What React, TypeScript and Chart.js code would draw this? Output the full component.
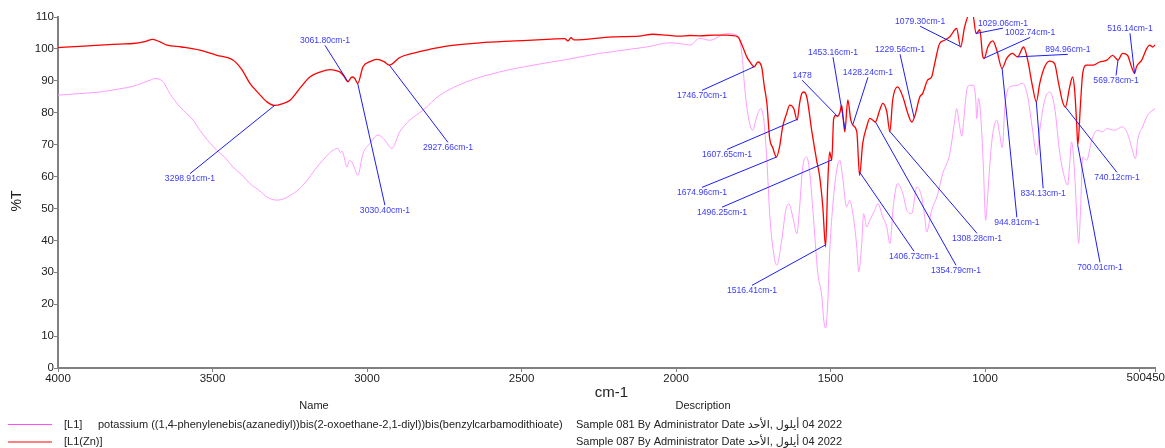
import React, { useEffect, useRef } from 'react';
import { Chart, registerables } from 'chart.js';

Chart.register(...registerables);

// L1(Zn) spectrum (red)
const zincWavenumbers = [
  4000, 3930, 3864, 3800, 3757, 3720, 3693, 3670, 3647, 3600, 3541, 3486, 3434, 3405, 3379, 3350, 3324, 3299, 3275, 3249,
  3217, 3185, 3150, 3120, 3100, 3088, 3075, 3062, 3049, 3040, 3030, 3013, 2990, 2968, 2945, 2928, 2894, 2852, 2800, 2742,
  2635, 2520, 2418, 2360, 2350, 2340, 2330, 2205, 2120, 2075, 2030, 1988, 1955, 1923, 1880, 1836, 1800, 1784, 1771, 1761,
  1747, 1735, 1723, 1714, 1706, 1697, 1687, 1675, 1665, 1655, 1642, 1632, 1619, 1608, 1600, 1593, 1587, 1577, 1561, 1545,
  1535, 1525, 1516, 1509, 1503, 1496, 1490, 1483, 1478, 1470, 1464, 1454, 1444, 1435, 1428, 1415, 1406, 1396, 1383, 1373,
  1365, 1355, 1341, 1331, 1318, 1308, 1299, 1283, 1266, 1250, 1237, 1228, 1211, 1202, 1186, 1173, 1163, 1147, 1131, 1114,
  1092, 1079, 1066, 1050, 1040, 1029, 1017, 1008, 1003, 991, 975, 962, 945, 930, 911, 895, 875, 862, 846, 834,
  823, 807, 791, 775, 762, 749, 740, 726, 717, 710, 703, 700, 691, 684, 671, 652, 629, 606, 587, 570,
  555, 539, 526, 516, 510, 493, 477, 467, 458, 450,
];
const zincTransmittance = [
  100.4, 100.8, 101.2, 101.5, 101.7, 102.3, 103.0, 102.2, 101.2, 100.6, 99.6, 98.0, 96.5, 93.5, 89.2, 86.0, 83.4, 82.3, 82.8, 83.9,
  87.7, 91.2, 92.8, 93.5, 93.2, 92.8, 91.5, 89.7, 91.2, 90.8, 89.2, 94.4, 96.0, 96.7, 96.0, 94.9, 97.3, 98.6, 99.8, 100.9,
  101.9, 102.5, 103.0, 103.2, 102.5, 103.5, 102.8, 103.8, 104.0, 104.6, 104.3, 104.0, 104.2, 104.1, 104.3, 104.3, 103.8, 100.6, 97.5, 95.9,
  94.4, 95.9, 94.4, 88.0, 83.0, 72.0, 69.0, 66.1, 69.3, 75.6, 79.8, 82.4, 81.3, 77.7, 83.0, 86.0, 86.5, 85.0, 74.5, 65.1,
  59.9, 50.5, 38.0, 58.0, 67.7, 65.1, 78.0, 79.2, 78.9, 80.0, 82.4, 74.0, 84.0, 78.0, 76.1, 74.0, 60.4, 70.3, 75.6, 78.2,
  77.8, 77.1, 80.8, 82.9, 80.3, 74.0, 83.9, 88.1, 85.0, 79.8, 77.1, 78.7, 85.0, 86.0, 90.2, 91.2, 95.4, 101.7, 102.7, 103.8,
  106.4, 100.6, 106.9, 111.0, 111.0, 104.8, 106.0, 98.0, 97.0, 100.6, 102.5, 99.6, 93.9, 97.0, 98.6, 97.5, 100.6, 96.5, 88.1, 83.4,
  89.2, 94.4, 96.2, 95.4, 89.2, 83.4, 81.8, 88.1, 91.2, 87.1, 75.6, 69.8, 82.9, 92.3, 94.9, 94.9, 95.9, 96.5, 98.0, 96.5,
  98.6, 98.0, 94.4, 92.3, 94.4, 96.5, 100.1, 101.2, 100.6, 101.2,
];

// L1 spectrum (pink)
const ligandWavenumbers = [
  4000, 3930, 3864, 3800, 3757, 3702, 3686, 3660, 3638, 3605, 3563, 3541, 3508, 3486, 3460, 3434, 3405, 3379, 3347, 3324,
  3292, 3270, 3249, 3220, 3194, 3170, 3143, 3120, 3105, 3094, 3086, 3081, 3075, 3065, 3057, 3049, 3040, 3030, 3013, 2991,
  2965, 2942, 2920, 2894, 2861, 2819, 2764, 2677, 2570, 2463, 2353, 2247, 2095, 2020, 1975, 1956, 1923, 1891, 1836, 1803,
  1787, 1778, 1768, 1752, 1739, 1726, 1716, 1706, 1697, 1684, 1674, 1658, 1645, 1635, 1622, 1609, 1600, 1590, 1577, 1567,
  1558, 1541, 1528, 1522, 1516, 1509, 1503, 1493, 1480, 1470, 1461, 1448, 1438, 1428, 1415, 1409, 1399, 1393, 1383, 1373,
  1357, 1347, 1331, 1318, 1308, 1296, 1283, 1266, 1253, 1237, 1221, 1205, 1195, 1189, 1173, 1156, 1137, 1114, 1098, 1092,
  1082, 1075, 1069, 1059, 1050, 1037, 1030, 1027, 1021, 1011, 1005, 998, 991, 979, 962, 953, 944, 936, 920, 900,
  878, 862, 846, 833, 823, 807, 791, 775, 758, 742, 733, 726, 720, 710, 703, 697, 691, 684, 671, 655,
  636, 620, 606, 581, 555, 539, 526, 513, 506, 490, 474, 450,
];
const ligandTransmittance = [
  85.5, 86.0, 86.5, 87.5, 88.3, 90.2, 90.7, 89.7, 86.0, 81.8, 77.7, 74.5, 70.5, 68.2, 66.0, 63.0, 60.5, 57.8, 55.5, 53.6,
  52.6, 53.0, 54.1, 56.0, 58.8, 62.0, 65.1, 67.5, 68.5, 68.8, 67.5, 68.0, 66.5, 63.0, 65.0, 64.6, 62.5, 60.4, 67.2, 70.3,
  73.0, 71.4, 68.8, 74.0, 77.7, 80.8, 85.5, 89.7, 92.8, 94.9, 96.7, 98.6, 100.6, 101.9, 101.5, 101.2, 103.3, 102.7, 104.8, 104.3,
  98.6, 88.1, 79.8, 74.5, 78.7, 81.3, 77.7, 65.1, 48.4, 35.9, 32.2, 40.0, 49.4, 51.5, 47.3, 42.1, 50.5, 63.0, 66.1, 60.9,
  50.5, 29.6, 22.3, 15.0, 12.5, 20.2, 35.9, 50.5, 62.0, 65.1, 59.9, 50.5, 52.6, 48.5, 37.9, 30.1, 39.0, 48.4, 44.2, 46.3,
  49.4, 51.5, 47.3, 44.2, 39.0, 51.5, 57.8, 54.7, 49.4, 48.4, 56.7, 53.6, 47.3, 42.6, 49.4, 53.6, 60.9, 67.2, 77.7, 81.3,
  75.6, 72.6, 77.7, 87.1, 88.6, 88.6, 83.9, 78.2, 84.5, 74.5, 62.0, 46.3, 54.7, 70.3, 77.7, 73.5, 69.0, 81.8, 88.1, 88.5,
  89.2, 85.0, 74.5, 66.7, 74.5, 83.9, 86.5, 81.8, 67.2, 59.4, 57.3, 64.1, 70.9, 60.9, 47.3, 39.0, 49.4, 66.1, 65.1, 71.4,
  74.5, 74.0, 75.0, 74.5, 75.6, 73.5, 69.3, 65.6, 71.4, 75.6, 79.2, 81.3,
];

const xTickValues = [4000, 3500, 3000, 2500, 2000, 1500, 1000, 500, 450];
const xEndTickValues = [500, 450];
const yTickValues = [0, 10, 20, 30, 40, 50, 60, 70, 80, 90, 100, 110];

// Peak annotations on the L1(Zn) curve
const peakLabels = [
  '3298.91cm-1', '3061.80cm-1', '3030.40cm-1', '2927.66cm-1', '1746.70cm-1', '1607.65cm-1', '1674.96cm-1',
  '1496.25cm-1', '1516.41cm-1', '1478', '1453.16cm-1', '1428.24cm-1', '1406.73cm-1', '1354.79cm-1',
  '1308.28cm-1', '1229.56cm-1', '1079.30cm-1', '1029.06cm-1', '1002.74cm-1', '894.96cm-1', '944.81cm-1',
  '834.13cm-1', '740.12cm-1', '700.01cm-1', '569.78cm-1', '516.14cm-1',
];
const peakWavenumbers = [
  3298.91, 3061.8, 3030.4, 2927.66, 1746.7, 1607.65, 1674.96,
  1496.25, 1516.41, 1478, 1453.16, 1428.24, 1406.73, 1354.79,
  1308.28, 1229.56, 1079.3, 1029.06, 1002.74, 894.96, 944.81,
  834.13, 740.12, 700.01, 569.78, 516.14,
];
const labelWavenumbers = [
  3573, 3136, 2942, 2738, 1916, 1835, 1916,
  1851, 1754, 1592, 1492, 1379, 1230, 1094,
  1026, 1275, 1210, 942, 854, 732, 897,
  812, 573, 628, 576, 531,
];
const labelTransmittance = [
  60.9, 101.1, 51.0, 70.7, 87.0, 68.5, 56.6,
  50.4, 25.9, 90.2, 97.4, 91.1, 36.6, 32.2,
  42.2, 98.3, 107.1, 106.5, 103.6, 98.3, 47.2,
  56.3, 61.3, 33.1, 91.7, 104.9,
];
const labelSides = [
  'below', 'above', 'below', 'below', 'below', 'below', 'below',
  'below', 'below', 'above', 'above', 'above', 'below', 'below',
  'below', 'above', 'above', 'above', 'above', 'above', 'below',
  'below', 'below', 'below', 'below', 'above',
];

const legendCodes = ['[L1]', '[L1(Zn)]'];
const legendNames = ['potassium ((1,4-phenylenebis(azanediyl))bis(2-oxoethane-2,1-diyl))bis(benzylcarbamodithioate)', ''];
const legendDescriptions = [
  'Sample 081 By Administrator Date \u0627\u0644\u0623\u062D\u062F\u200E, \u0623\u064A\u0644\u0648\u0644\u200E 04 2022',
  'Sample 087 By Administrator Date \u0627\u0644\u0623\u062D\u062F\u200E, \u0623\u064A\u0644\u0648\u0644\u200E 04 2022',
];

const FONT = "'Liberation Sans', Arial, 'DejaVu Sans', sans-serif";
const RED = '#ff0000';
const PINK = '#ff9cff';
const PINK_LEGEND = '#ff4dff';
const BLUE_TEXT = '#3a3aff';
const BLUE_LINE = '#1c1cf5';
const AXIS = '#808080';
const TICK_TEXT = '#222';

function interpolate(xs: number[], ys: number[], x: number): number {
  for (let i = 0; i < xs.length - 1; i++) {
    const a = xs[i];
    const b = xs[i + 1];
    if ((x <= a && x >= b) || (x >= a && x <= b)) {
      const t = a === b ? 0 : (x - a) / (b - a);
      return ys[i] + t * (ys[i + 1] - ys[i]);
    }
  }
  return ys[ys.length - 1];
}

const overlayPlugin = {
  id: 'overlay',
  afterDraw(chart: any) {
    const ctx = chart.ctx as CanvasRenderingContext2D;
    const xs = chart.scales.x;
    const ys = chart.scales.y;
    const area = chart.chartArea;
    ctx.save();

    // peak annotations
    ctx.font = `8.6px ${FONT}`;
    ctx.textAlign = 'center';
    for (let i = 0; i < peakLabels.length; i++) {
      const pw = peakWavenumbers[i];
      const pv = Math.min(interpolate(zincWavenumbers, zincTransmittance, pw), 110);
      const px = xs.getPixelForValue(pw);
      const py = ys.getPixelForValue(pv);
      const lx = xs.getPixelForValue(labelWavenumbers[i]);
      const ly = ys.getPixelForValue(labelTransmittance[i]);
      ctx.strokeStyle = BLUE_LINE;
      ctx.lineWidth = 1;
      ctx.beginPath();
      ctx.moveTo(px, py);
      ctx.lineTo(lx, ly);
      ctx.stroke();
      ctx.fillStyle = BLUE_TEXT;
      if (labelSides[i] === 'above') {
        ctx.textBaseline = 'bottom';
        ctx.fillText(peakLabels[i], lx, ly - 0.5);
      } else {
        ctx.textBaseline = 'top';
        ctx.fillText(peakLabels[i], lx, ly + 1);
      }
    }

    // the two crowded end ticks of the x axis, set side by side
    ctx.font = `11.5px ${FONT}`;
    ctx.fillStyle = TICK_TEXT;
    ctx.textBaseline = 'middle';
    const seam = (xs.getPixelForValue(xEndTickValues[0]) + xs.getPixelForValue(xEndTickValues[1])) / 2 - 1.5;
    ctx.textAlign = 'right';
    ctx.fillText(String(xEndTickValues[0]), seam, area.bottom + 10);
    ctx.textAlign = 'left';
    ctx.fillText(String(xEndTickValues[1]), seam, area.bottom + 10);

    // axis titles
    ctx.fillStyle = TICK_TEXT;
    ctx.textAlign = 'center';
    ctx.textBaseline = 'middle';
    ctx.font = `15px ${FONT}`;
    ctx.fillText('cm-1', (area.left + area.right) / 2 + 5, 393);
    ctx.save();
    ctx.translate(17, 201);
    ctx.rotate(-Math.PI / 2);
    ctx.font = `14px ${FONT}`;
    ctx.fillText('%T', 0, 0);
    ctx.restore();

    // legend table
    ctx.font = `11px ${FONT}`;
    ctx.fillStyle = TICK_TEXT;
    ctx.textAlign = 'center';
    ctx.textBaseline = 'middle';
    ctx.fillText('Name', 314, 406);
    ctx.fillText('Description', 703, 406);
    const rowY = [424.5, 442];
    const rowColors = [PINK_LEGEND, RED];
    for (let r = 0; r < legendCodes.length; r++) {
      ctx.strokeStyle = rowColors[r];
      ctx.lineWidth = 1;
      ctx.beginPath();
      ctx.moveTo(8, rowY[r]);
      ctx.lineTo(52, rowY[r]);
      ctx.stroke();
      ctx.fillStyle = TICK_TEXT;
      ctx.textAlign = 'left';
      ctx.direction = 'ltr';
      ctx.fillText(legendCodes[r], 64, rowY[r]);
      if (legendNames[r]) ctx.fillText(legendNames[r], 98, rowY[r]);
      ctx.fillText(legendDescriptions[r], 576, rowY[r]);
    }
    ctx.restore();
  },
};

export default function App() {
  const canvasRef = useRef<HTMLCanvasElement | null>(null);

  useEffect(() => {
    document.body.style.margin = '0';
    const canvas = canvasRef.current;
    if (!canvas) return;
    const zincData = zincWavenumbers.map((w, i) => ({ x: w, y: zincTransmittance[i] }));
    const ligandData = ligandWavenumbers.map((w, i) => ({ x: w, y: ligandTransmittance[i] }));
    const tickFont = { family: FONT, size: 11.5 };

    const chart = new Chart(canvas, {
      type: 'line',
      data: {
        datasets: [
          {
            label: '[L1(Zn)]',
            data: zincData,
            borderColor: RED,
            borderWidth: 1.3,
            pointRadius: 0,
            cubicInterpolationMode: 'monotone',
            fill: false,
          },
          {
            label: '[L1]',
            data: ligandData,
            borderColor: PINK,
            borderWidth: 1,
            pointRadius: 0,
            cubicInterpolationMode: 'monotone',
            fill: false,
          },
        ],
      },
      options: {
        animation: false,
        responsive: true,
        maintainAspectRatio: false,
        parsing: true,
        layout: { padding: { top: 17, right: 10, left: 0, bottom: 0 } },
        plugins: {
          legend: { display: false },
          tooltip: { enabled: false },
          title: { display: false },
        },
        scales: {
          x: {
            type: 'linear',
            reverse: true,
            min: 450,
            max: 4000,
            position: 'bottom',
            afterBuildTicks: (scale: any) => {
              scale.ticks = xTickValues.map((v) => ({ value: v }));
            },
            afterFit: (scale: any) => {
              scale.height = 80;
            },
            ticks: {
              autoSkip: false,
              maxRotation: 0,
              minRotation: 0,
              padding: 0,
              color: TICK_TEXT,
              font: tickFont,
              callback: (v: any) => (xEndTickValues.includes(Number(v)) ? '' : String(v)),
            },
            grid: {
              display: true,
              drawOnChartArea: false,
              drawTicks: true,
              tickLength: 4,
              color: AXIS,
            },
            border: { display: true, color: AXIS, width: 2 },
          },
          y: {
            type: 'linear',
            min: 0,
            max: 110,
            afterBuildTicks: (scale: any) => {
              scale.ticks = yTickValues.map((v) => ({ value: v }));
            },
            afterFit: (scale: any) => {
              scale.width = 58;
            },
            ticks: {
              padding: 0,
              color: TICK_TEXT,
              font: tickFont,
              callback: (v: any) => String(v),
            },
            grid: {
              display: true,
              drawOnChartArea: false,
              drawTicks: true,
              tickLength: 4,
              color: AXIS,
            },
            border: { display: true, color: AXIS, width: 2 },
          },
        },
      } as any,
      plugins: [overlayPlugin],
    });

    return () => {
      chart.destroy();
    };
  }, []);

  return (
    <div style={{ width: 1165, height: 448, position: 'relative' }}>
      <canvas ref={canvasRef} />
    </div>
  );
}
